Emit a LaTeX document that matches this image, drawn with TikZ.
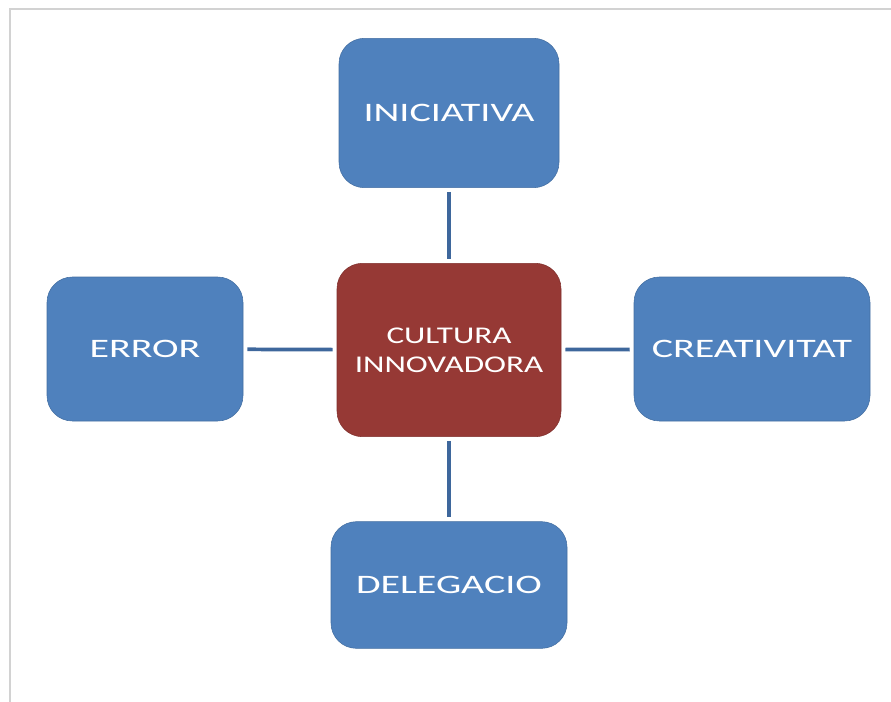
\documentclass[tikz,border=0pt]{standalone}
\usepackage{fontspec}
\setmainfont{Carlito}
\definecolor{boxblue}{RGB}{79,129,189}
\definecolor{boxred}{RGB}{150,57,53}
\definecolor{linkblue}{RGB}{62,103,156}
\newcommand{\wide}[1]{\scalebox{1.5}[1]{#1}}

\tikzset{
  concept/.style={rounded corners=19pt, fill=boxblue, draw=boxblue!85!black, line width=.4pt,
    text=white, font=\fontsize{20}{22}\selectfont, align=center, inner sep=0pt},
  core/.style={concept, fill=boxred, draw=boxred!85!black, font=\fontsize{18}{21.75}\selectfont},
  link/.style={linkblue, line width=2.8pt, shorten <=3pt, shorten >=3pt}
}

\begin{document}
\begin{tikzpicture}[x=.75pt, y=-.75pt]
                \useasboundingbox (0, 0) rectangle (891, 702);
                % page edge shadow
                \draw[gray!35, line width=1.5pt] (10, 702) -- (10, 9) -- (891, 9);

                \node[core, minimum width=168pt, minimum height=130pt] (cultura) at (449, 350)
                    {\scalebox{1.38}[1]{CULTURA}\\\scalebox{1.38}[1]{INNOVADORA}};
                \node[concept, minimum width=165pt, minimum height=112pt] (iniciativa) at (449, 113) {\wide{INICIATIVA}};
                \node[concept, minimum width=147pt, minimum height=108pt] (error) at (145, 349) {\wide{ERROR}};
                \node[concept, minimum width=177pt, minimum height=108pt] (creativitat) at (752, 349) {\wide{CREATIVITAT}};
                \node[concept, minimum width=177pt, minimum height=95pt] (delegacio) at (449, 585) {\wide{DELEGACIO}};

                \draw[link] (iniciativa) -- (cultura);
                \draw[link] (cultura) -- (delegacio);
                \draw[link] (error) -- (cultura);
                \draw[link] (cultura) -- (creativitat);
            \end{tikzpicture}
\end{document}
